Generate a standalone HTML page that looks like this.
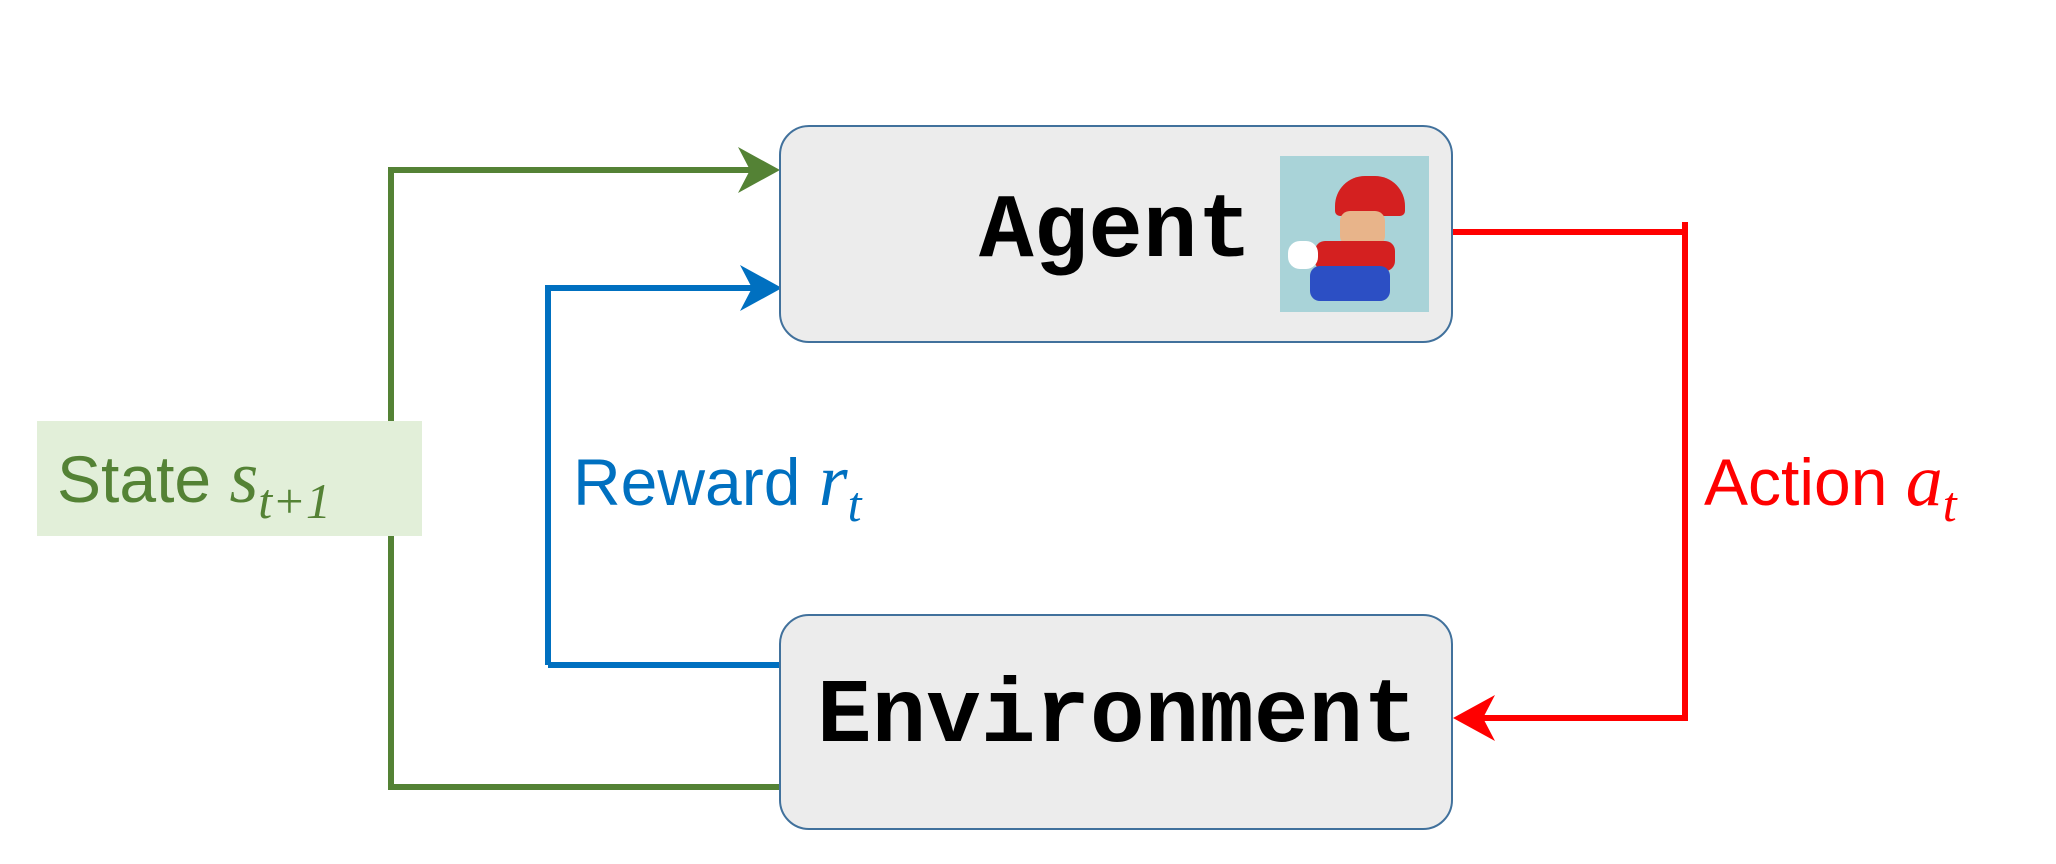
<!DOCTYPE html>
<html><head><style>
body{margin:0;width:2056px;height:864px;background:#fff;overflow:hidden;position:relative;font-family:"Liberation Sans",sans-serif}
.box{position:absolute;background:#ececec;border:2.5px solid #41719c;border-radius:30px;box-sizing:border-box}
.mono{position:absolute;font-family:"Liberation Mono",monospace;font-weight:bold;color:#000}
</style></head><body>
<svg width="2056" height="864" style="position:absolute;left:0;top:0">
<rect x="37" y="421" width="385" height="115" fill="#e2efd9"/>
<polyline points="391,421 391,170 755,170" fill="none" stroke="#548235" stroke-width="6"/>
<polyline points="391,536 391,787 780,787" fill="none" stroke="#548235" stroke-width="6"/>
<polygon points="780,170 738,147 750,170 738,193" fill="#548235"/>
<polyline points="548,665 548,288 755,288" fill="none" stroke="#0070c0" stroke-width="6"/>
<line x1="548" y1="665" x2="780" y2="665" stroke="#0070c0" stroke-width="6"/>
<polygon points="782,288 740,265 752,288 740,311" fill="#0070c0"/>
<polyline points="1453,232 1685,232 1685,718 1480,718" fill="none" stroke="#ff0000" stroke-width="6"/>
<polyline points="1685,222 1685,232" stroke="#ff0000" stroke-width="6"/>
<polygon points="1453,718 1495,695 1483,718 1495,741" fill="#ff0000"/>
</svg>
<div class="box" style="left:779px;top:125px;width:674px;height:218px"></div>
<div class="box" style="left:779px;top:614px;width:674px;height:216px"></div>
<div class="mono" style="left:979px;top:178px;font-size:91px;line-height:110px">Agent</div>
<div style="position:absolute;left:1280px;top:156px;width:149px;height:156px;background:#a9d3d8">
<div style="position:absolute;left:55px;top:20px;width:70px;height:40px;background:#d42020;border-radius:30px 30px 5px 5px"></div>
<div style="position:absolute;left:60px;top:55px;width:45px;height:35px;background:#e8b48a;border-radius:10px"></div>
<div style="position:absolute;left:35px;top:85px;width:80px;height:30px;background:#d42020;border-radius:10px"></div>
<div style="position:absolute;left:30px;top:110px;width:80px;height:35px;background:#2c4fc4;border-radius:10px"></div>
<div style="position:absolute;left:8px;top:85px;width:30px;height:28px;background:#fff;border-radius:12px"></div>
</div>
<div class="mono" style="left:817px;top:663px;font-size:91px;line-height:110px">Environment</div>
<div style="position:absolute;left:57px;top:440px;font-size:66px;color:#548235;line-height:76px">State <i style="font-family:'Liberation Serif',serif;font-size:74px">s<sub style="font-size:50px">t+1</sub></i></div>
<div style="position:absolute;left:573px;top:443px;font-size:66px;color:#0070c0;line-height:76px">Reward <i style="font-family:'Liberation Serif',serif;font-size:74px">r<sub style="font-size:50px">t</sub></i></div>
<div style="position:absolute;left:1704px;top:443px;font-size:66px;color:#ff0000;line-height:76px">Action <i style="font-family:'Liberation Serif',serif;font-size:74px">a<sub style="font-size:50px">t</sub></i></div>
</body></html>
